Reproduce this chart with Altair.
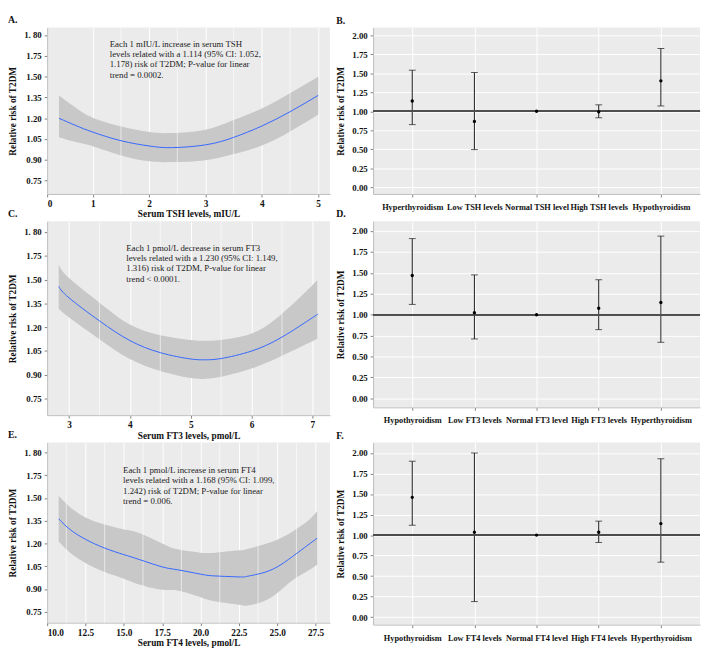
import altair as alt
import pandas as pd

FONT = "Liberation Serif"

# ---------------- Panel A: TSH spline ----------------
tsh_x = [0.40, 0.70, 1.00, 1.50, 2.00, 2.40, 3.00, 3.50, 4.00, 4.50, 5.00]
tsh_fit = [1.200, 1.147, 1.100, 1.038, 1.000, 0.988, 1.008, 1.062, 1.144, 1.247, 1.365]
tsh_lo = [1.063, 1.028, 0.998, 0.932, 0.890, 0.884, 0.898, 0.942, 1.003, 1.105, 1.225]
tsh_hi = [1.365, 1.275, 1.203, 1.140, 1.100, 1.093, 1.118, 1.188, 1.270, 1.380, 1.500]
tsh_xticks = [0.19, 1, 2, 3, 4, 5]
tsh_xlabels = ["0", "1", "2", "3", "4", "5"]
tsh_minor = [1.5, 2.5, 3.5, 4.5]
tsh_note = ["Each 1 mIU/L increase in serum TSH",
            "levels related with a 1.114 (95% CI: 1.052,",
            "1.178) risk of T2DM; P-value for linear",
            "trend = 0.0002."]

# ---------------- Panel C: FT3 spline ----------------
ft3_x = [2.83, 3.00, 3.50, 4.00, 4.50, 5.00, 5.25, 5.50, 6.00, 6.50, 7.00, 7.08]
ft3_fit = [1.457, 1.385, 1.240, 1.116, 1.040, 1.000, 0.995, 1.003, 1.050, 1.138, 1.260, 1.280]
ft3_lo = [1.316, 1.262, 1.125, 1.000, 0.925, 0.880, 0.876, 0.888, 0.940, 1.020, 1.112, 1.126]
ft3_hi = [1.594, 1.510, 1.355, 1.217, 1.150, 1.120, 1.115, 1.120, 1.160, 1.285, 1.465, 1.497]
ft3_xticks = [3, 4, 5, 6, 7]
ft3_xlabels = ["3", "4", "5", "6", "7"]
ft3_minor = [3.5, 4.5, 5.5, 6.5]
ft3_note = ["Each 1 pmol/L decrease in serum FT3",
            "levels related with a 1.230 (95% CI: 1.149,",
            "1.316) risk of T2DM, P-value for linear",
            "trend < 0.0001."]

# ---------------- Panel E: FT4 spline ----------------
ft4_x = [10.75, 11.5, 12.5, 13.75, 15.0, 16.0, 17.5, 18.5, 20.0, 21.0, 22.5, 23.0, 24.0, 25.0, 26.0, 27.0, 27.6]
ft4_fit = [1.363, 1.292, 1.228, 1.170, 1.127, 1.095, 1.046, 1.027, 0.998, 0.986, 0.980, 0.983, 1.005, 1.046, 1.115, 1.190, 1.235]
ft4_lo = [1.214, 1.140, 1.072, 1.012, 0.968, 0.930, 0.895, 0.890, 0.846, 0.818, 0.796, 0.790, 0.815, 0.874, 0.958, 1.020, 1.060]
ft4_hi = [1.513, 1.440, 1.372, 1.325, 1.293, 1.270, 1.200, 1.162, 1.140, 1.140, 1.155, 1.163, 1.190, 1.225, 1.280, 1.350, 1.415]
ft4_xticks = [10.0, 12.5, 15.0, 17.5, 20.0, 22.5, 25.0, 27.5]
ft4_xlabels = ["10.0", "12.5", "15.0", "17.5", "20.0", "22.5", "25.0", "27.5"]
ft4_minor = [11.25, 13.75, 16.25, 18.75, 21.25, 23.75, 26.25]
ft4_note = ["Each 1 pmol/L increase in serum FT4",
            "levels related with a 1.168 (95% CI: 1.099,",
            "1.242) risk of T2DM; P-value for linear",
            "trend = 0.006."]

# Left y axis tick labels (as printed in the figure)
spl_yticks = [0.75, 0.90, 1.05, 1.20, 1.35, 1.50, 1.65, 1.80]
spl_ylabels = ["0.75", "0.90", "1.05", "1.20", "1.35", "1.50", "1.75", "1. 80"]

# ---------------- Panels B, D, F: categorical estimates ----------------
tsh_cats = ["Hyperthyroidism", "Low TSH levels", "Normal TSH level", "High TSH levels", "Hypothyroidism"]
tsh_est = [1.135, 0.867, 1.00, 0.995, 1.40]
tsh_cilo = [0.825, 0.497, 1.00, 0.915, 1.07]
tsh_cihi = [1.54, 1.51, 1.00, 1.085, 1.825]

ft3_cats = ["Hypothyroidism", "Low FT3 levels", "Normal FT3 level", "High FT3 levels", "Hyperthyroidism"]
ft3_est = [1.468, 1.023, 1.00, 1.077, 1.146]
ft3_cilo = [1.123, 0.71, 1.00, 0.821, 0.67]
ft3_cihi = [1.91, 1.476, 1.00, 1.418, 1.94]

ft4_cats = ["Hypothyroidism", "Low FT4 levels", "Normal FT4 level", "High FT4 levels", "Hyperthyroidism"]
ft4_est = [1.46, 1.035, 1.00, 1.035, 1.14]
ft4_cilo = [1.12, 0.19, 1.00, 0.91, 0.67]
ft4_cihi = [1.90, 2.00, 1.00, 1.17, 1.93]

cat_yticks = [0.0, 0.25, 0.5, 0.75, 1.0, 1.25, 1.5, 1.75, 2.0]


def label_expr(values, labels):
    expr = "''"
    for v, l in reversed(list(zip(values, labels))):
        expr = f"abs(datum.value - {v}) < 1e-6 ? '{l}' : ({expr})"
    return expr


AX = dict(labelFont=FONT, labelFontWeight="bold", labelColor="#111111",
          titleFont=FONT, titleFontWeight="bold", titleColor="#111111",
          domainColor="#BDBDBD", tickColor="#7F7F7F", tickSize=3, labelOverlap=False,
          tickCount=30)


def spline_panel(x, fit, lo, hi, xdom, xticks, xlabels, minor, ydom, xtitle,
                 letter, note, note_x, note_y, w, h):
    df = pd.DataFrame({"x": x, "fit": fit, "lo": lo, "hi": hi})
    xs = alt.Scale(domain=xdom, nice=False, zero=False)
    ys = alt.Scale(domain=ydom, nice=False, zero=False)
    xaxis = alt.Axis(values=xticks, labelExpr=label_expr(xticks, xlabels), title=xtitle,
                     grid=True, gridColor="white", gridWidth=1, labelFontSize=9.5,
                     titleFontSize=9.5, labelPadding=2, titlePadding=1, **AX)
    yaxis = alt.Axis(values=spl_yticks, labelExpr=label_expr(spl_yticks, spl_ylabels),
                     title="Relative risk of T2DM", grid=False, labelFontSize=9,
                     titleFontSize=9.5, labelPadding=3, titlePadding=6, **AX)
    band = alt.Chart(df).mark_area(color="#C8C8C8", interpolate="natural").encode(
        x=alt.X("x:Q", scale=xs, axis=xaxis),
        y=alt.Y("lo:Q", scale=ys, axis=yaxis), y2="hi:Q")
    minor_df = pd.DataFrame({"x": minor})
    minor_grid = alt.Chart(minor_df).mark_rule(color="white", strokeWidth=0.6).encode(
        x=alt.X("x:Q"))
    line = alt.Chart(df).mark_line(color="#3366FF", strokeWidth=1, interpolate="natural").encode(
        x=alt.X("x:Q"), y=alt.Y("fit:Q"))
    ndf = pd.DataFrame({"x": [note_x], "lo": [note_y], "t": ["\n".join(note)]})
    txt = alt.Chart(ndf).mark_text(align="left", baseline="top", font=FONT, fontSize=9,
                                   lineHeight=10.5, color="#222222", lineBreak="\n").encode(
        x=alt.X("x:Q"), y=alt.Y("lo:Q"), text="t:N")
    return alt.layer(band, minor_grid, line, txt).properties(
        width=w, height=h,
        title=alt.TitleParams(letter, anchor="start", frame="bounds", font=FONT, fontSize=10,
                              fontWeight="bold", color="#111111", offset=2))


def cat_panel(cats, est, lo, hi, ydom, letter, w, h):
    df = pd.DataFrame({"cat": cats, "est": est, "lo": lo, "hi": hi})
    xs = alt.Scale(type="point", domain=cats, padding=0.63)
    ys = alt.Scale(domain=ydom, nice=False, zero=False)
    xaxis = alt.Axis(title=None, labelAngle=0, grid=True, gridColor="white", gridWidth=1,
                     labelFontSize=8.5, labelPadding=6, **AX)
    yaxis = alt.Axis(values=cat_yticks, format=".2f", title="Relative risk of T2DM", grid=True,
                     gridColor="white", gridWidth=1, labelFontSize=9, titleFontSize=9.5,
                     labelPadding=3, titlePadding=6, **AX)
    base = alt.Chart(df)
    bars = base.mark_rule(color="#1A1A1A", strokeWidth=1).encode(
        x=alt.X("cat:N", scale=xs, axis=xaxis, sort=cats),
        y=alt.Y("lo:Q", scale=ys, axis=yaxis), y2="hi:Q")
    cap_df = pd.DataFrame({"cat": cats + cats, "lo": lo + hi,
                           "show": [l != u for l, u in zip(lo, hi)] * 2})
    caps = alt.Chart(cap_df).transform_filter("datum.show").mark_tick(
        color="#1A1A1A", size=7, thickness=1, orient="horizontal").encode(
        x=alt.X("cat:N", sort=cats), y=alt.Y("lo:Q"))
    ref = alt.Chart(df).mark_rule(color="#4D4D4D", strokeWidth=1.5).encode(y=alt.datum(1.0))
    pts = base.mark_point(filled=True, size=12, color="#000000", opacity=1).encode(
        x=alt.X("cat:N", sort=cats), y=alt.Y("est:Q"))
    return alt.layer(bars, ref, caps, pts).properties(
        width=w, height=h,
        title=alt.TitleParams(letter, anchor="start", frame="bounds", font=FONT, fontSize=10,
                              fontWeight="bold", color="#111111", offset=2))


pA = spline_panel(tsh_x, tsh_fit, tsh_lo, tsh_hi, [0.19, 5.21], tsh_xticks, tsh_xlabels, tsh_minor,
                  [0.654, 1.854], "Serum TSH levels, mIU/L", "A.", tsh_note, 1.30, 1.765, 289, 170)
pC = spline_panel(ft3_x, ft3_fit, ft3_lo, ft3_hi, [2.64, 7.29], ft3_xticks, ft3_xlabels, ft3_minor,
                  [0.646, 1.867], "Serum FT3 levels, pmol/L", "C.", ft3_note, 3.94, 1.725, 289, 198)
pE = spline_panel(ft4_x, ft4_fit, ft4_lo, ft4_hi, [10.0, 28.44], ft4_xticks, ft4_xlabels, ft4_minor,
                  [0.678, 1.866], "Serum FT4 levels, pmol/L", "E.", ft4_note, 14.95, 1.71, 289, 184)

pB = cat_panel(tsh_cats, tsh_est, tsh_cilo, tsh_cihi, [-0.086, 2.10], "B.", 334, 170)
pD = cat_panel(ft3_cats, ft3_est, ft3_cilo, ft3_cihi, [-0.108, 2.116], "D.", 334, 190)
pF = cat_panel(ft4_cats, ft4_est, ft4_cilo, ft4_cihi, [-0.091, 2.127], "F.", 334, 186)

chart = alt.concat(pA, pB, pC, pD, pE, pF, columns=2,
                   spacing={"row": 28, "column": 44}, bounds="flush").properties(
    padding=0, background="white"
).configure_view(fill="#EBEBEB", stroke=None)

chart.save("out.html", embed_options={"renderer": "svg", "actions": False})
